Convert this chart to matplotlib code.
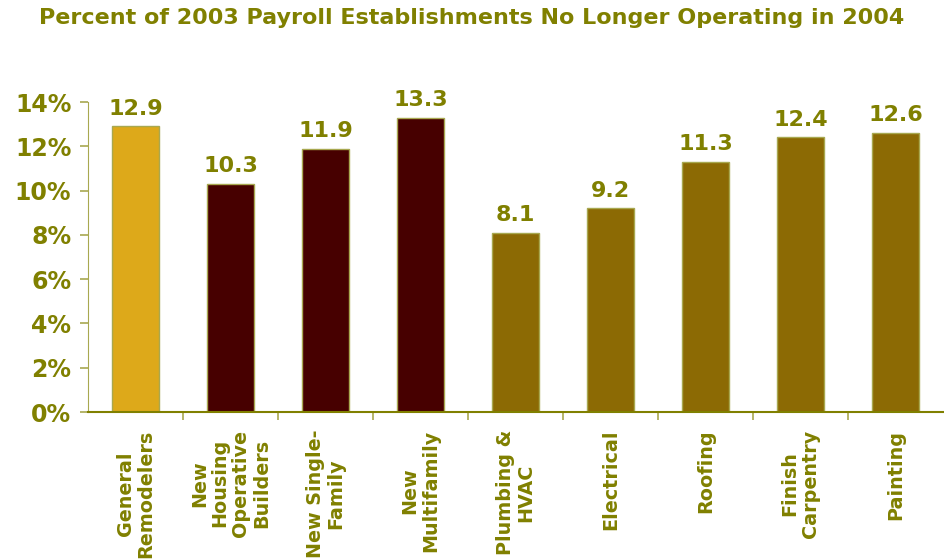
import matplotlib
matplotlib.use("Agg")
import matplotlib.pyplot as plt

categories = ["General\nRemodelers", "New\nHousing\nOperative\nBuilders", "New Single-\nFamily",
              "New\nMultifamily", "Plumbing &\nHVAC", "Electrical", "Roofing",
              "Finish\nCarpentry", "Painting"]
values = [12.9, 10.3, 11.9, 13.3, 8.1, 9.2, 11.3, 12.4, 12.6]
bar_colors = ["#DDA91A", "#470000", "#470000", "#470000", "#8C6A04",
              "#8C6A04", "#8C6A04", "#8C6A04", "#8C6A04"]
yticks = [0, 2, 4, 6, 8, 10, 12, 14]

olive = "#808000"

fig = plt.figure(figsize=(9.44, 5.6), dpi=100)
ax = fig.add_axes([88 / 944, 148 / 560, 855 / 944, 310 / 560])

x = range(len(values))
ax.bar(x, values, width=0.5, color=bar_colors, edgecolor="#A8A850", linewidth=1)

for xi, v in zip(x, values):
    ax.text(xi, v + 0.35, f"{v:.1f}", ha="center", va="bottom",
            fontsize=16, fontweight="bold", color=olive)

ax.set_xlim(-0.5, len(values) - 0.5)
ax.set_ylim(0, 14)
ax.set_yticks(yticks)
ax.set_yticklabels([f"{t}%" for t in yticks], fontsize=17, fontweight="bold", color=olive)

ax.set_xticks([i + 0.5 for i in range(len(values) - 1)])
ax.set_xticklabels([])
ax.tick_params(axis="x", direction="out", length=6, color="#A8A850", width=1.2)
ax.tick_params(axis="y", direction="out", length=6, color="#A8A850", width=1.2, pad=6)

for xi, lab in zip(x, categories):
    ax.text(xi, -0.8, lab, rotation=90, ha="center", va="top", multialignment="center",
            fontsize=13.8, fontweight="bold", color=olive, linespacing=1.12)

for side in ["top", "right"]:
    ax.spines[side].set_visible(False)
ax.spines["left"].set_color("#A8A850")
ax.spines["bottom"].set_color(olive)
ax.spines["bottom"].set_linewidth(1.5)

fig.text(0.5, 0.968, "Percent of 2003 Payroll Establishments No Longer Operating in 2004",
         ha="center", va="center", fontsize=16, fontweight="bold", color=olive)

fig.savefig("out.png", dpi=100)
